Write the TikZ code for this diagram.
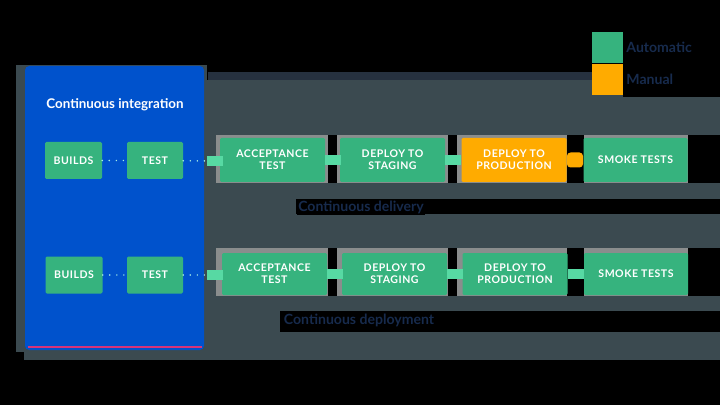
\documentclass[tikz,border=0pt]{standalone}
\usepackage{fontspec}
\setmainfont{Lato}
\newfontfamily\stagefont[LetterSpace=5]{Lato}
\usetikzlibrary{positioning}
\definecolor{ciblue}{HTML}{0052CC}
\definecolor{stagegreen}{HTML}{36B37E}
\definecolor{jointgreen}{HTML}{57D9A3}
\definecolor{manualorange}{HTML}{FFAB00}
\definecolor{slate}{HTML}{3B4A50}
\definecolor{bandgray}{HTML}{8A8D8D}
\definecolor{inknavy}{HTML}{172B4D}
\definecolor{stripnavy}{HTML}{26313F}
\definecolor{dotcyan}{HTML}{A8EEE6}
\definecolor{edgepink}{HTML}{D6337A}
\newcommand{\pix}[1]{#1*0.025cm}
\newcommand{\band}[2]% top y, bottom y
{(216,#1) rectangle (688,#2)
}

\tikzset{
  stage/.style={rectangle, rounded corners=1pt, fill=stagegreen, text=white,
    minimum width=\pix{105}, minimum height=\pix{44}, inner sep=0pt, align=center,
    font=\stagefont\bfseries\fontsize{7.5}{8.5}\selectfont},
  cistage/.style={stage, minimum width=\pix{56}, minimum height=\pix{37}},
  joint/.style={rectangle, fill=jointgreen, minimum width=\pix{16}, minimum height=\pix{10}, inner sep=0pt},
  dotlink/.style={dotcyan, line width=1.2pt, line cap=round, dash pattern=on 0pt off 5pt},
  legendkey/.style={rectangle, minimum width=\pix{31}, minimum height=\pix{31}, inner sep=0pt},
  inklabel/.style={text=inknavy, fill=black, inner sep=1pt, font=\bfseries\fontsize{10}{11}\selectfont}
}

\begin{document}
\begin{tikzpicture}[x=0.025cm,y=-0.025cm]

\fill[black] (0,0) rectangle (720,405);
\useasboundingbox (0,0) rectangle (720,405);

% backdrop
\fill[slate] (205,80) rectangle (720,360);
\fill[slate] (16,65) rectangle (207,352);
\fill[slate] (24,352) rectangle (205,360);
\fill[stripnavy] (208,72) rectangle (592,80);
\fill[black] (623,78) rectangle (720,97);

% row bands
\fill[bandgray] \band{135}{183};
\fill[bandgray] \band{248}{296};
\foreach \gx/\gw in {328/9, 448/9, 567/17, 688/32} {
  \fill[black] (\gx,135) rectangle ++(\gw,48);
  \fill[black] (\gx,248) rectangle ++(\gw,48);
}
\fill[black] (296,199) rectangle (720,214);
\fill[black] (280,311) rectangle (720,332);

% continuous integration
\node[rectangle, rounded corners=3pt, fill=ciblue, minimum width=\pix{179}, minimum height=\pix{284}, inner sep=0pt] (ci) at (114.5,208) {};
\draw[edgepink, line width=1pt] (28,347) -- (202,347);
\node[text=white, font=\bfseries\fontsize{9.5}{11}\selectfont] (cititle) at (115,105) {Continuous integration};

\node[cistage, minimum width=\pix{57}] (b1) at (73.5,160.5) {BUILDS};
\node[cistage] (t1) at (155,160.5) {TEST};
\node[cistage, minimum width=\pix{57}] (b2) at (74,275) {BUILDS};
\node[cistage] (t2) at (155,275) {TEST};

% delivery
\node[stage] (a1) at (272.5,160) {ACCEPTANCE\\TEST};
\node[stage] (s1) at (392.5,160) {DEPLOY TO\\STAGING};
\node[stage, fill=manualorange] (p1) at (514,160) {DEPLOY TO\\PRODUCTION};
\node[stage, minimum width=\pix{104}] (k1) at (635.5,160) {SMOKE TESTS};

% deployment
\node[stage, minimum height=\pix{42}] (a2) at (274.5,274) {ACCEPTANCE\\TEST};
\node[stage, minimum height=\pix{42}] (s2) at (394.5,274) {DEPLOY TO\\STAGING};
\node[stage, minimum height=\pix{42}] (p2) at (515,274) {DEPLOY TO\\PRODUCTION};
\node[stage, minimum height=\pix{42}, minimum width=\pix{104}] (k2) at (636,274) {SMOKE TESTS};

\node[joint] (j1) at (215,161) {};
\node[joint] (j2) at (215,275) {};

\draw[dotlink] (b1) -- (t1);
\draw[dotlink] (t1) -- (j1);
\draw[dotlink] (b2) -- (t2);
\draw[dotlink] (t2) -- (j2);

\path (a1) -- node[joint]{} (s1);
\path (s1) -- node[joint]{} (p1);
\path (p1) -- node[joint, fill=manualorange, minimum height=\pix{15}, rounded corners=2.5pt]{} (k1);
\path (a2) -- node[joint]{} (s2);
\path (s2) -- node[joint]{} (p2);
\path (p2) -- node[joint]{} (k2);

\node[inklabel] (cdel) at (361,207) {Continuous delivery};
\node[inklabel] (cdep) at (359,320) {Continuous deployment};

% legend
\node[legendkey, fill=stagegreen] (lauto) at (607.5,47.5) {};
\node[legendkey, fill=manualorange, below=0pt of lauto] (lman) {};
\node[inklabel, right=1pt of lauto] (tauto) {Automatic};
\node[inklabel, right=1pt of lman] (tman) {Manual};

\end{tikzpicture}
\end{document}
